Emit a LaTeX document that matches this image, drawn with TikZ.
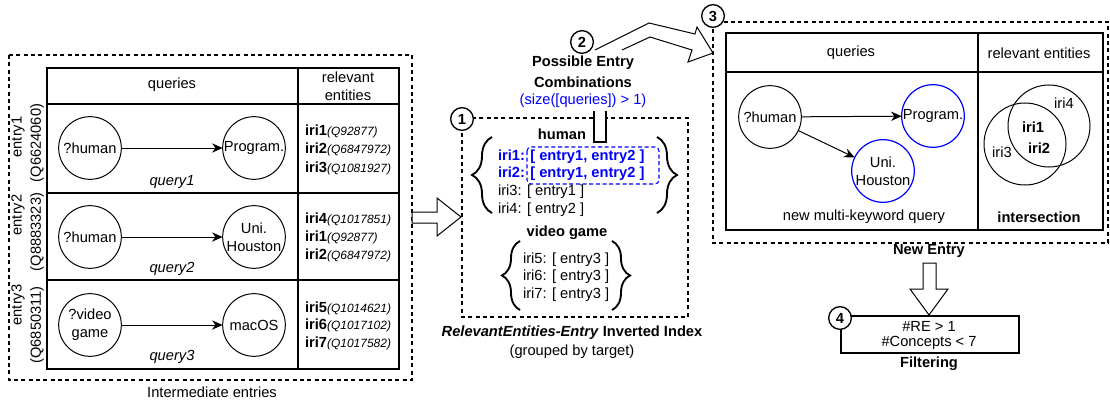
\documentclass[tikz,border=0pt]{standalone}
\usepackage{fontspec}
\setmainfont{Liberation Sans}
\usetikzlibrary{arrows.meta,decorations.pathreplacing}
\definecolor{dblue}{HTML}{0000FF}
\newcommand{\fsN}{\fontsize{11}{13.5}\selectfont}
\newcommand{\fsS}{\fontsize{9}{11}\selectfont}
\begin{document}
\begin{tikzpicture}[x=0.75pt,y=-0.75pt,
  every node/.style={font=\fsN, inner sep=0pt, outer sep=0pt},
  tline/.style={line width=1.1pt},
  dbox/.style={draw, line width=0.8pt, dash pattern=on 3pt off 2.5pt},
  qc/.style={draw, circle, minimum size=47pt, line width=0.75pt, align=center, inner sep=0pt},
  bc/.style={qc, draw=dblue, line width=0.9pt},
  num/.style={draw, circle, fill=white, minimum size=17pt, line width=1pt, font=\fsN\bfseries},
  qarrow/.style={line width=0.75pt, -{Stealth[length=8pt,width=7pt]}},
  harrow/.style={draw, fill=white, line width=0.75pt, line join=miter},
  brc/.style={decorate, line width=1.4pt, decoration={brace, amplitude=#1}},
  rot/.style={rotate=90},
  ent/.style={anchor=west},
]
\useasboundingbox (0,0) rectangle (1110,403);

% ---------------- Intermediate entries ----------------
\draw[dbox] (9,55) rectangle (412,380);
\node (intlbl) at (212,392) {Intermediate entries};
\draw[tline] (47,68) rectangle (399,369);
\draw[tline] (298,68) -- (298,369);
\foreach \yy in {104,193,280} \draw[tline] (47,\yy) -- (399,\yy);
\node (hq) at (172,85) {queries};
\node (hr1) at (348,77) {relevant};
\node (hr2) at (348,95) {entities};

\node[rot] (e1a) at (18,137) {entry1};
\node[rot] (e1b) at (37,143) {(Q6624060)};
\node[rot] (e2a) at (18,215) {entry2};
\node[rot] (e2b) at (37,232) {(Q8883323)};
\node[rot] (e3a) at (18,305) {entry3};
\node[rot] (e3b) at (37,325) {(Q6850311)};

\node[qc] (h1) at (90,148) {?human};
\node[qc] (p1) at (254,148) {Program.};
\draw[qarrow] (h1) -- (p1);
\node[font=\fsN\itshape] (q1) at (172,182) {query1};

\node[qc] (h2) at (90,237) {?human};
\node[qc] (u2) at (254,237) {Uni.\\Houston};
\draw[qarrow] (h2) -- (u2);
\node[font=\fsN\itshape] (q2) at (172,269) {query2};

\node[qc] (v3) at (90,325) {?video\\game};
\node[qc] (m3) at (254,325) {macOS};
\draw[qarrow] (v3) -- (m3);
\node[font=\fsN\itshape] (q3) at (172,357) {query3};

\node[ent] (r11) at (305,131) {\textbf{iri1}{\fsS\itshape (Q92877)}};
\node[ent] (r12) at (305,149) {\textbf{iri2}{\fsS\itshape (Q6847972)}};
\node[ent] (r13) at (305,168) {\textbf{iri3}{\fsS\itshape (Q1081927)}};
\node[ent] (r21) at (305,219) {\textbf{iri4}{\fsS\itshape (Q1017851)}};
\node[ent] (r22) at (305,237) {\textbf{iri1}{\fsS\itshape (Q92877)}};
\node[ent] (r23) at (305,255) {\textbf{iri2}{\fsS\itshape (Q6847972)}};
\node[ent] (r31) at (305,308) {\textbf{iri5}{\fsS\itshape (Q1014621)}};
\node[ent] (r32) at (305,325) {\textbf{iri6}{\fsS\itshape (Q1017102)}};
\node[ent] (r33) at (305,343) {\textbf{iri7}{\fsS\itshape (Q1017582)}};

% hollow arrow to inverted index
\draw[harrow] (412,212) -- (437,212) -- (437,198) -- (461,217) -- (437,236) -- (437,223) -- (412,223) -- cycle;

% ---------------- Inverted index ----------------
\draw[dbox] (462,118) rectangle (688,317);
\node[font=\fsN\bfseries] (hum) at (562,134) {human};
\draw[dblue, line width=0.8pt, dash pattern=on 3pt off 2pt, rounded corners=3pt] (527,147) rectangle (659,184);
\node[ent, text=dblue, font=\fsN\bfseries] (i1) at (498,157) {iri1: [ entry1, entry2 ]};
\node[ent, text=dblue, font=\fsN\bfseries] (i2) at (498,174) {iri2: [ entry1, entry2 ]};
\node[ent] (i3) at (498,192) {iri3: [ entry1 ]};
\node[ent] (i4) at (498,210) {iri4: [ entry2 ]};
\draw[brc=15pt] (492,213) -- (492,137);
\draw[brc=15pt] (657,137) -- (657,213);

\node[font=\fsN\bfseries] (vg) at (567,233) {video game};
\node[ent] (i5) at (523,260) {iri5: [ entry3 ]};
\node[ent] (i6) at (523,277) {iri6: [ entry3 ]};
\node[ent] (i7) at (523,295) {iri7: [ entry3 ]};
\draw[brc=13.5pt] (520,310) -- (520,241);
\draw[brc=13.5pt] (612,241) -- (612,310);

\node (idx1) at (572,333) {\textbf{\textit{RelevantEntities-Entry} Inverted Index}};
\node (idx2) at (572,352) {(grouped by target)};
\node[num] (n1) at (462,119) {1};

% tab
\fill[white] (594,110) rectangle (606,142);
\draw[line width=1pt] (594,111) -- (594,142) -- (606,142) -- (606,111);

% ---------------- Possible entry combinations ----------------
\node[font=\fsN\bfseries] (pc1) at (583,63) {Possible Entry};
\node[font=\fsN\bfseries] (pc2) at (583,82) {Combinations};
\node[text=dblue] (pc3) at (583,101) {(size([queries]) > 1)};
\node[num] (n2) at (582,42) {2};
\draw[harrow, fill=none] (595,50) -- (649,23) -- (695,34) -- (697,27) -- (713,53) -- (688,62) -- (692,50) -- (650,37) -- (622,50);

% ---------------- New entry ----------------
\draw[dbox] (713,22) rectangle (1108,243);
\draw[tline] (726,33) rectangle (1103,230);
\draw[tline] (978,33) -- (978,230);
\draw[tline] (726,72) -- (1103,72);
\node (nq) at (851,53) {queries};
\node (nr) at (1039,53) {relevant entities};
\node[qc] (nh) at (770,117) {?human};
\node[bc] (np) at (933,116) {Program.};
\node[bc] (nu) at (883,171) {Uni.\\Houston};
\draw[qarrow] (nh) -- (np);
\draw[qarrow] (nh) -- (nu);
\node (nmk) at (864,217) {new multi-keyword query};
\node[draw, circle, minimum size=61.5pt, line width=0.75pt] (vA) at (1025,144) {};
\node[draw, circle, minimum size=61.5pt, line width=0.75pt] (vB) at (1049,126) {};
\node (vi4) at (1064,103) {iri4};
\node[font=\fsN\bfseries] (vi1) at (1033,127) {iri1};
\node[font=\fsN\bfseries] (vi2) at (1039,148) {iri2};
\node (vi3) at (1002,152) {iri3};
\node[font=\fsN\bfseries] (inter) at (1039,217) {intersection};
\node[num] (n3) at (713,16) {3};
\node[font=\fsN\bfseries] (newe) at (929,251) {New Entry};

% down arrow
\draw[harrow] (923,263) -- (936,263) -- (936,289) -- (948,289) -- (929,315) -- (910,289) -- (923,289) -- cycle;

% ---------------- Filtering ----------------
\draw[line width=1pt] (841,316) rectangle (1019,353);
\node (f1) at (929,326) {\#RE > 1};
\node (f2) at (929,343) {\#Concepts < 7};
\node[font=\fsN\bfseries] (f3) at (929,364) {Filtering};
\node[num] (n4) at (840,318) {4};
\end{tikzpicture}
\end{document}
